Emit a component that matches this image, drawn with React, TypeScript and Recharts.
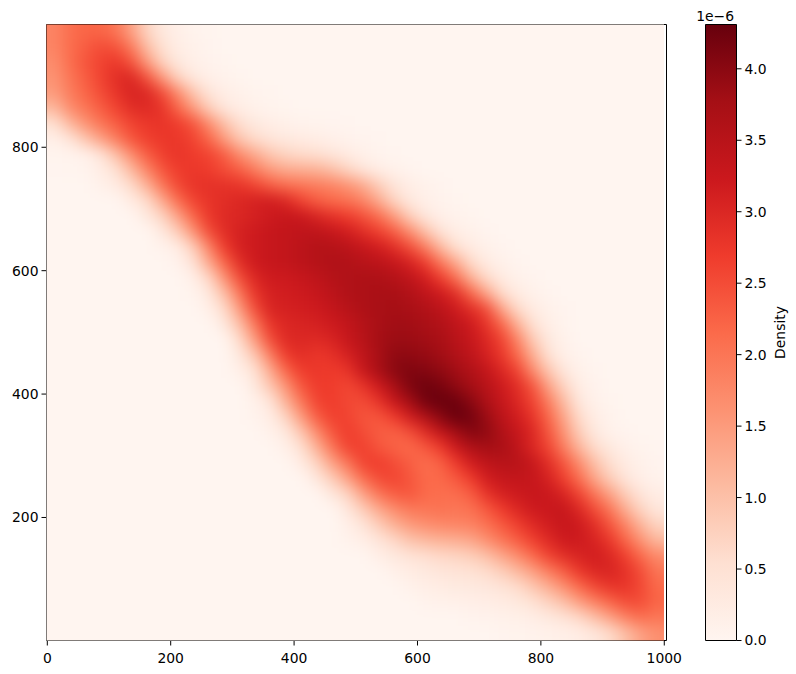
import React from "react";
import { ScatterChart, Scatter, XAxis, YAxis, ReferenceArea, BarChart, Bar } from "recharts";

const xTicks = [0, 200, 400, 600, 800, 1000];
const yTicks = [200, 400, 600, 800];
const cbTicks = [0, 0.5, 1, 1.5, 2, 2.5, 3, 3.5, 4];
const cbMax = 4.31;
const REDS = ["#fff5f0", "#fee0d2", "#fcbba1", "#fc9272", "#fb6a4a", "#ef3b2c", "#cb181d", "#a50f15", "#67000d"];
const cols = 40;
const cellUnit = 25;

// Density in 1e-7, top row first; each row begins at the column in rowStart, the rest is zero.
const rowStart = [0,0,0,0,0,0,0,0,0,0,3,5,6,7,7,8,9,9,10,11,12,12,12,13,13,13,14,15,16,17,18,19,19,19,21,22,23,24,27,29];
const r00 = [18,21,22,22,20,14,7,3,1.5,.5,.3];
const r01 = [18,21,23,25,24,19,10,5,2,1,.4];
const r02 = [17,21,24,26,27.5,24,15,7,3,1.5,.7,.3];
const r03 = [16,20,23,26,29,30,24,15,7,3,1.5,.7,.3];
const r04 = [15,19,22,25,28,30.5,30,25,17,9,4,2,1,.5,.3];
const r05 = [11,17,20,23,26,29,29.5,28,22,15,8,3.5,2,1,.6,.3];
const r06 = [5,11,16,20,23,26,27.5,28,27,24,17,10,5.5,3,2,1.2,.8,.6,.4,.2];
const r07 = [1.5,4,9,14,19,24,26.5,27.5,27.5,26,22,15,9,6,4,3,2.5,2,1.2,.7,.4,.2];
const r08 = [.3,.5,.9,4,10,17,23,26.5,28,27,26,23,17,13,9,7,6,5.5,4,2.5,1.2,.5,.2];
const r09 = [.2,.3,.6,2,5,11,18,24,27,27.5,27,25,23,19,15,13,12.5,12,10,7,4,2,1,.4];
const r10 = [1,2.5,6,12,20,25.5,28,28.5,28.5,28,26,23,21,20,19,18,16,13,8,4,2,1,.4];
const r11 = [2.5,6,13,21,26,28,29,30,31,31.5,30,26,23,21.5,20.5,18,13,7,3,1.5,.7,.3];
const r12 = [3,7,14,22,27.5,29.5,30,31,32,33,32.5,30.5,28.5,27,24.5,21,15,8,3.5,1.5,.7,.3];
const r13 = [3,8,16,25,29,31,32,33,33.5,34,34,33,31.5,29,26.5,23,17,10,4.5,2,1,.4];
const r14 = [.8,2,8,18,27,31,32,33,33.5,34.5,35.5,35.5,34.5,33,31.5,29,25,19,11,5,2.5,1,.4];
const r15 = [.9,4.5,13,22,29,32,33,33.5,34.5,35.5,36,36,35,34.5,33,31,27,20,13,6,2.5,1,.4];
const r16 = [1.5,6.5,16,25,30,32,32,33,34,35.5,36,36.5,36.5,35.5,34,31.5,27,21,12,6,2.5,1,.4];
const r17 = [.6,3,10,20,28,31,31.5,32,33,34.5,36,36.5,37,37,36,34,32,29,22,13.5,6,2.5,1,.4];
const r18 = [1.5,6,15,25,30.5,31,31.5,32,33.5,35,36.5,37,37.5,37,36,34.5,32,29,25,13.5,6,2.5,1,.4];
const r19 = [3,10,20,28,30,30.5,31,32,33.5,35.5,37,38,38,37,36,34,32,28,22,12,5,1.8,.6];
const r20 = [6,15,25,29.5,30,29.5,30.5,33,35,37.5,38.5,38.5,38,37,35,33,30,26,18,8.5,3,1];
const r21 = [3,9,19,27,29,27.5,28.5,31,34,37,39.5,39.5,39,38,36,34,31,27.5,21.5,12.5,5,1.5,.5];
const r22 = [1.5,5,13,22,27,27.5,27,28,33,37,40,41,40.5,39.5,38,36,33.5,30,26,17,9,3.5,1,.3];
const r23 = [3,9,16,24,27,27,25.5,28,32,37,41,42.5,41.5,39.5,37.5,35,32,29,24,14,7,2,.7];
const r24 = [1,4,12,20,26,27,25.5,25,28,33,37.5,42,43,42.5,40,36.5,33,30,26,19,10.5,3.5,1,.3];
const r25 = [.7,2,7,15,23,26.5,26,24,24,27,31.5,36,40,43,42,38.5,34.5,31.5,28,22,13.5,6,2,.7];
const r26 = [1,3,9,17,24,27,25,23,22.5,24.5,29,33.5,37.5,40.5,39.5,36,33,30,24,16,8,3,1,.4];
const r27 = [1.5,5,12,20,26,26.5,24,22.5,21.5,23.5,27,32,36,37.5,37,34,30,26,19,11.5,6,3,1.2,.5,.2];
const r28 = [2.5,7,14,20,26,27,25,23,21,22.5,27,31.5,34,35,35,33,29,24,17,10,5.5,2.5,1,.4];
const r29 = [3.5,8,14,21,25,26,24,21.5,21.5,23.5,27,31.5,33,33.5,33,31,26.5,21,13.5,8,4,1.7,.7];
const r30 = [3.5,7,14,20,23,24,21.5,21,21,23,28,31,32,33,32.5,30.5,26,20,14,8,4,2];
const r31 = [3.5,8,13,17,19.5,20,20.5,20,20.5,23.5,27,30,32,32.5,33,30,25,20,12.5,7,3.5];
const r32 = [1.5,4,8,12,15,16.5,17.5,18,18.5,20.5,23.5,26.5,29.5,31.5,33,32,29,24,18,11.5,7];
const r33 = [.8,1.8,4,6.5,9.5,11,12,12.5,13.5,16.5,20,23,26.5,29.5,32,32,30.5,27.5,22,16,11];
const r34 = [1.8,3,4.5,5.5,6.5,7,8,10,13.5,17,21.5,26,29,30.5,31.5,30,26.5,21.5,17];
const r35 = [1.3,2.3,3,4,4.5,5,6,8,11,14.5,19,23,27.5,30,30.5,28.5,25,20];
const r36 = [1,1.8,2.3,2.8,3,3.5,4.5,6,9,12.5,16.5,21.5,25.5,28,28,25.5,21.5];
const r37 = [.8,1.1,1.3,1.7,2,2.6,3.2,5,7.3,10,14.5,18.5,22,25,25,22];
const r38 = [.5,.7,1,1.4,2,3,4.5,6.5,10,14,18.5,21,20];
const r39 = [.4,.5,.7,1,1.5,2,3.5,6,10,14,16.5];
const rows = [r00,r01,r02,r03,r04,r05,r06,r07,r08,r09,r10,r11,r12,r13,r14,r15,r16,r17,r18,r19,r20,r21,r22,r23,r24,r25,r26,r27,r28,r29,r30,r31,r32,r33,r34,r35,r36,r37,r38,r39];

function hexToRgb(h: string) {
  return [1, 3, 5].map((i) => parseInt(h.slice(i, i + 2), 16));
}
function reds(t: number) {
  const f = Math.max(0, Math.min(0.9999, t)) * (REDS.length - 1);
  const i = Math.floor(f);
  const a = hexToRgb(REDS[i]);
  const b = hexToRgb(REDS[i + 1]);
  const c = a.map((v, k) => Math.round(v + (b[k] - v) * (f - i)));
  return `rgb(${c[0]},${c[1]},${c[2]})`;
}

const cells: { x: number; y: number; v: number; col: number; row: number }[] = [];
rows.forEach((vals, row) => {
  for (let col = 0; col < cols; col++) {
    const k = col - rowStart[row];
    const v = k >= 0 && k < vals.length ? vals[k] : 0;
    cells.push({ x: (col + 0.5) * cellUnit, y: 1000 - (row + 0.5) * cellUnit, v: v / 10, col, row });
  }
});

const plot = { left: 46.5, top: 24.5, width: 620, height: 616 };
const chartW = 700;
const cellW = 15.45;
const cellH = 15.4;
const bleed = 45;
const xDomain = [-1.3, 1003.6];
const yDomain = [0.6, 999];

function HeatCell(props: any) {
  const { cx, cy, payload } = props;
  if (cx == null || cy == null) return null;
  let x0 = cx - cellW / 2 - 0.5;
  let x1 = cx + cellW / 2 + 0.5;
  let y0 = cy - cellH / 2 - 0.5;
  let y1 = cy + cellH / 2 + 0.5;
  if (payload.col === 0) x0 -= bleed;
  if (payload.col === cols - 1) x1 += bleed;
  if (payload.row === 0) y0 -= bleed;
  if (payload.row === rows.length - 1) y1 += bleed;
  return <rect x={x0} y={y0} width={x1 - x0} height={y1 - y0} fill={reds(payload.v / cbMax)} />;
}

const tickStyle = { fontFamily: "DejaVu Sans", fontSize: 13.9, fill: "#000" };
const cbData = [{ name: "Density", v: cbMax }];

export default function App() {
  return (
    <div style={{ position: "absolute", left: 0, top: 0, width: 796, height: 674, background: "#fff" }}>
      <style>{`.heat .recharts-scatter { filter: url(#heatBlur); clip-path: url(#heatClip); }`}</style>
      <div className="heat" style={{ position: "absolute", left: 0, top: 0 }}>
        <ScatterChart
          width={chartW}
          height={674}
          margin={{ top: plot.top, left: 0, right: chartW - plot.left - plot.width, bottom: 674 - plot.top - plot.height - 30 }}
        >
          <defs>
            <filter id="heatBlur" filterUnits="userSpaceOnUse" x={0} y={0} width={720} height={674} colorInterpolationFilters="sRGB">
              <feGaussianBlur stdDeviation={7.5} />
            </filter>
            <clipPath id="heatClip">
              <rect x={plot.left} y={plot.top} width={617.5} height={plot.height} />
            </clipPath>
          </defs>
          <XAxis type="number" dataKey="x" domain={xDomain} ticks={xTicks} axisLine={false} height={30} tickSize={5} tickMargin={8} tick={tickStyle} tickLine={{ stroke: "#000" }} interval={0} allowDataOverflow />
          <YAxis type="number" dataKey="y" domain={yDomain} ticks={yTicks} axisLine={false} width={plot.left} tickSize={5} tickMargin={3} tick={tickStyle} tickLine={{ stroke: "#000" }} interval={0} allowDataOverflow />
          <Scatter data={cells} isAnimationActive={false} shape={HeatCell} />
          <ReferenceArea x1={xDomain[0]} x2={xDomain[1]} y1={yDomain[0]} y2={yDomain[1]} fill="none" stroke="#000" strokeWidth={1} />
        </ScatterChart>
      </div>
      <div style={{ position: "absolute", left: 680, top: 0 }}>
        <BarChart width={116} height={674} data={cbData} barCategoryGap={0} margin={{ top: plot.top, left: 25.5, right: 0, bottom: 674 - plot.top - plot.height }}>
          <defs>
            <linearGradient id="cbGrad" x1="0" y1="1" x2="0" y2="0">
              {REDS.map((c, i) => (
                <stop key={c} offset={i / (REDS.length - 1)} stopColor={c} />
              ))}
            </linearGradient>
          </defs>
          <XAxis dataKey="name" hide />
          <YAxis
            orientation="right"
            type="number"
            domain={[0, cbMax]}
            ticks={cbTicks}
            width={59.5}
            axisLine={false}
            tickSize={5}
            tickMargin={3}
            tick={tickStyle}
            tickLine={{ stroke: "#000" }}
            interval={0}
            tickFormatter={(v: number) => v.toFixed(1)}
            label={{ value: "Density", angle: -90, position: "insideRight", offset: 16, style: { fontFamily: "DejaVu Sans", fontSize: 13.9, fill: "#000", textAnchor: "middle" } }}
          />
          <Bar dataKey="v" fill="url(#cbGrad)" stroke="#000" strokeWidth={1} isAnimationActive={false} />
          <text x={54} y={20.5} textAnchor="end" style={{ fontFamily: "DejaVu Sans", fontSize: 13.9, fill: "#000" }}>1e−6</text>
        </BarChart>
      </div>
    </div>
  );
}
